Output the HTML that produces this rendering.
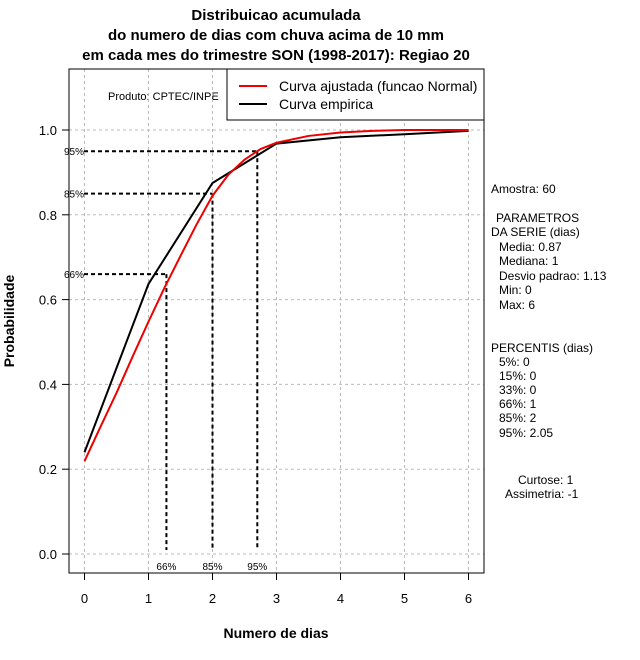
<!DOCTYPE html>
<html><head><meta charset="utf-8"><style>
body{margin:0;background:#fff;}
svg{display:block;font-family:"Liberation Sans",sans-serif;}
</style></head><body>
<svg id="c" width="640" height="660" viewBox="0 0 640 660">
<g font-weight="bold" font-size="15" text-anchor="middle">
<text x="276" y="20">Distribuicao acumulada</text>
<text x="276" y="40">do numero de dias com chuva acima de 10 mm</text>
<text x="276" y="60">em cada mes do trimestre SON (1998-2017): Regiao 20</text>
</g>
<text x="276" y="638" font-size="14" font-weight="bold" text-anchor="middle">Numero de dias</text>
<text transform="translate(14,321) rotate(-90)" font-size="14" font-weight="bold" text-anchor="middle">Probabilidade</text>
<text x="108" y="100" font-size="11">Produto: CPTEC/INPE</text>
<g id="grid"></g>
<g id="axes"></g>
<g id="marks"></g>
<rect x="69" y="69" width="415" height="504" fill="none" stroke="#000"/>
<g>
<rect x="227" y="69" width="257" height="51" fill="#fff" stroke="#000"/>
<g><line x1="239" y1="86" x2="267" y2="86" stroke="#e00" stroke-width="2"/><text x="279" y="91" font-size="14">Curva ajustada (funcao Normal)</text></g>
<g><line x1="239" y1="104" x2="267" y2="104" stroke="#000" stroke-width="2"/><text x="279" y="109" font-size="14">Curva empirica</text></g>
</g>
<g font-size="12">
<text x="491" y="193">Amostra: 60</text>
<text x="496" y="222">PARAMETROS</text>
<text x="491" y="236">DA SERIE (dias)</text>
<text x="499" y="251">Media: 0.87</text>
<text x="499" y="265">Mediana: 1</text>
<text x="499" y="280">Desvio padrao: 1.13</text>
<text x="499" y="294">Min: 0</text>
<text x="499" y="309">Max: 6</text>
<text x="491" y="352">PERCENTIS (dias)</text>
<text x="499" y="366">5%: 0</text>
<text x="499" y="380">15%: 0</text>
<text x="499" y="394">33%: 0</text>
<text x="499" y="408">66%: 1</text>
<text x="499" y="422">85%: 2</text>
<text x="499" y="437">95%: 2.05</text>
<text x="518" y="484">Curtose: 1</text>
<text x="505" y="498">Assimetria: -1</text>
</g>
</svg>
<script>
const xTicks=[0,1,2,3,4,5,6];
const yTicks=[0.0,0.2,0.4,0.6,0.8,1.0];
const empX=[0,1,2,3,4,5,6];
const empY=[0.24,0.637,0.875,0.968,0.983,0.99,0.998];
const fitX=[0,0.25,0.5,0.75,1,1.25,1.5,1.75,2,2.25,2.5,2.75,3,3.5,4,4.5,5,6];
const fitY=[0.219,0.30,0.38,0.465,0.548,0.628,0.703,0.777,0.845,0.895,0.930,0.955,0.970,0.986,0.994,0.998,1.0,1.0];
const pctLabels=["66%","85%","95%"];
const pctX=[1.28,2.0,2.7];
const pctY=[0.66,0.85,0.95];
const NS="http://www.w3.org/2000/svg";
const sx=v=>84.5+v*64;
const sy=v=>554-v*424;
function mk(p,tag,a){const e=document.createElementNS(NS,tag);for(const k in a)e.setAttribute(k,a[k]);p.appendChild(e);return e;}
const grid=document.getElementById('grid'),axes=document.getElementById('axes'),marks=document.getElementById('marks');
xTicks.forEach(t=>{
 const g=mk(grid,'line',{x1:sx(t),x2:sx(t),y1:69,y2:573,stroke:'#bbb','stroke-dasharray':'3,3'});
 
 
 const tk=mk(axes,'line',{x1:sx(t),x2:sx(t),y1:573,y2:580,stroke:'#000'});
 
 
 const tx=mk(axes,'text',{x:sx(t),y:603,'font-size':13,'text-anchor':'middle'});tx.textContent=t;
 
 
});
yTicks.forEach(t=>{
 const g=mk(grid,'line',{x1:69,x2:484,y1:sy(t),y2:sy(t),stroke:'#bbb','stroke-dasharray':'3,3'});
 
 
 const tk=mk(axes,'line',{x1:62,x2:69,y1:sy(t),y2:sy(t),stroke:'#000'});
 
 
 const tx=mk(axes,'text',{x:57,y:sy(t)+5,'font-size':13,'text-anchor':'end'});tx.textContent=t.toFixed(1);
 
 
});
pctX.forEach((v,i)=>{
 const h=mk(marks,'line',{x1:84,x2:sx(v),y1:sy(pctY[i]),y2:sy(pctY[i]),stroke:'#000','stroke-width':2,'stroke-dasharray':'4,3'});
 
 
 const vl=mk(marks,'line',{x1:sx(v),x2:sx(v),y1:sy(pctY[i]),y2:550,stroke:'#000','stroke-width':2,'stroke-dasharray':'4,3'});
 
 
 const l1=mk(marks,'text',{x:64,y:sy(pctY[i])+4,'font-size':10});l1.textContent=pctLabels[i];
 
 
 const l2=mk(marks,'text',{x:sx(v),y:570,'font-size':10,'text-anchor':'middle'});l2.textContent=pctLabels[i];
 
 
});
const emp=mk(marks,'polyline',{points:empX.map((x,i)=>sx(x)+','+sy(empY[i])).join(' '),fill:'none',stroke:'#000','stroke-width':2});


const fit=mk(marks,'polyline',{points:fitX.map((x,i)=>sx(x)+','+sy(fitY[i])).join(' '),fill:'none',stroke:'#e00','stroke-width':2,'stroke-linejoin':'round'});


</script>
</body></html>
